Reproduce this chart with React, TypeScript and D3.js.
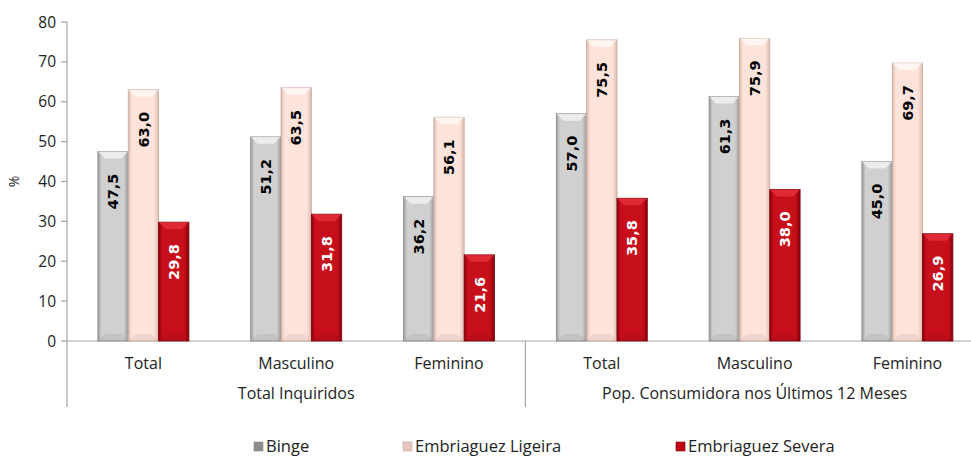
import React from "react";
import * as d3 from "d3";

const categories = ["Total", "Masculino", "Feminino", "Total", "Masculino", "Feminino"];
const groupLabels = ["Total Inquiridos", "Pop. Consumidora nos Últimos 12 Meses"];
const seriesNames = ["Binge", "Embriaguez Ligeira", "Embriaguez Severa"];
const binge = [47.5, 51.2, 36.2, 57.0, 61.3, 45.0];
const ligeira = [63.0, 63.5, 56.1, 75.5, 75.9, 69.7];
const severa = [29.8, 31.8, 21.6, 35.8, 38.0, 26.9];
const yTicks = [0, 10, 20, 30, 40, 50, 60, 70, 80];

const W = 971;
const H = 458;
const left = 67;
const band = 152.8;
const top = 22;
const bottom = 341;

const seriesStyle = [
  { id: "g0", edge: "#9c9c9c", mid: "#d0d0d0", stroke: "#8a8a8a", text: "#000", legend: "#8c8c8c" },
  { id: "g1", edge: "#dcbcb0", mid: "#fde3da", stroke: "#c9a79b", text: "#000", legend: "#e6c6bc" },
  { id: "g2", edge: "#86000a", mid: "#c70f1c", stroke: "#7a0008", text: "#fff", legend: "#c00010" },
];

const fontMain = "'Open Sans', 'DejaVu Sans', sans-serif";

export default function App() {
  const x = d3.scaleBand<number>().domain(d3.range(categories.length)).range([left, left + band * categories.length]).padding(0);
  const x1 = d3.scaleBand<number>().domain([0, 1, 2]).range([0, 91]).padding(0);
  const y = d3.scaleLinear().domain([0, 80]).range([bottom, top]);
  const series = [binge, ligeira, severa];
  const groupX = (i: number) => (x(i) as number) + x.bandwidth() / 2 - 45.5;

  const legendX = [254, 403, 676];

  return (
    <svg width={W} height={H} style={{ position: "absolute", left: 0, top: 0, background: "#fff" }}>
      <defs>
        {seriesStyle.map((s) => (
          <linearGradient key={s.id} id={s.id} x1="0" x2="1" y1="0" y2="0">
            <stop offset="0" stopColor={s.edge} />
            <stop offset="0.12" stopColor={s.mid} />
            <stop offset="0.85" stopColor={s.mid} />
            <stop offset="1" stopColor={s.edge} />
          </linearGradient>
        ))}
      </defs>

      {/* y axis */}
      <line x1={left} x2={left} y1={top} y2={407} stroke="#a6a6a6" strokeWidth={1.2} />
      {yTicks.map((t) => (
        <g key={t}>
          <line x1={left - 6} x2={left} y1={y(t)} y2={y(t)} stroke="#a6a6a6" strokeWidth={1.2} />
          <text x={left - 11} y={y(t)} dy="0.36em" textAnchor="end" fontFamily={fontMain} fontSize={15.5} fill="#222">
            {t}
          </text>
        </g>
      ))}
      <text transform={`translate(19,${(top + bottom) / 2}) rotate(-90)`} textAnchor="middle" fontFamily={fontMain} fontSize={14} fill="#222">
        %
      </text>

      {/* x axis */}
      <line x1={left} x2={W} y1={bottom} y2={bottom} stroke="#a6a6a6" strokeWidth={1.2} />
      <line x1={x(3) as number} x2={x(3) as number} y1={bottom} y2={407} stroke="#a6a6a6" strokeWidth={1.2} />
      {categories.map((c, i) => (
        <text key={i} x={(x(i) as number) + x.bandwidth() / 2} y={369} textAnchor="middle" fontFamily={fontMain} fontSize={16} fill="#222">
          {c}
        </text>
      ))}
      {groupLabels.map((g, gi) => (
        <text key={g} x={left + band * 3 * gi + band * 1.5} y={399} textAnchor="middle" fontFamily={fontMain} fontSize={16} fill="#222">
          {g}
        </text>
      ))}

      {/* bars */}
      {categories.map((c, i) =>
        series.map((vals, si) => {
          const v = vals[i];
          const bx = groupX(i) + (x1(si) as number);
          const bw = x1.bandwidth();
          const by = y(v);
          const bh = bottom - by;
          const s = seriesStyle[si];
          const bv = 7;
          return (
            <g key={`${i}-${si}`}>
              <rect x={bx} y={by} width={bw} height={bh} fill={`url(#${s.id})`} stroke={s.stroke} strokeWidth={0.8} />
              <polygon
                points={`${bx},${by} ${bx + bw},${by} ${bx + bw - bv},${by + bv} ${bx + bv},${by + bv}`}
                fill={si === 2 ? "#ff4a55" : "#fff"}
                opacity={si === 2 ? 0.45 : 0.6}
              />
              <polygon
                points={`${bx},${bottom} ${bx + bw},${bottom} ${bx + bw - bv},${bottom - bv} ${bx + bv},${bottom - bv}`}
                fill="#000"
                opacity={0.06}
              />
              <text
                transform={`translate(${bx + bw / 2},${by + 22}) rotate(-90)`}
                textAnchor="end"
                dy="0.36em"
                fontFamily="'DejaVu Sans', sans-serif"
                fontWeight="bold"
                fontSize={14.5}
                fill={s.text}
              >
                {v.toFixed(1).replace(".", ",")}
              </text>
            </g>
          );
        })
      )}

      {/* legend */}
      {seriesNames.map((n, si) => (
        <g key={n}>
          <rect x={legendX[si]} y={442} width={9} height={9} fill={seriesStyle[si].legend} stroke={seriesStyle[si].stroke} strokeWidth={0.6} />
          <text x={legendX[si] + 12} y={452} fontFamily={fontMain} fontSize={16.5} fill="#222">
            {n}
          </text>
        </g>
      ))}
    </svg>
  );
}
